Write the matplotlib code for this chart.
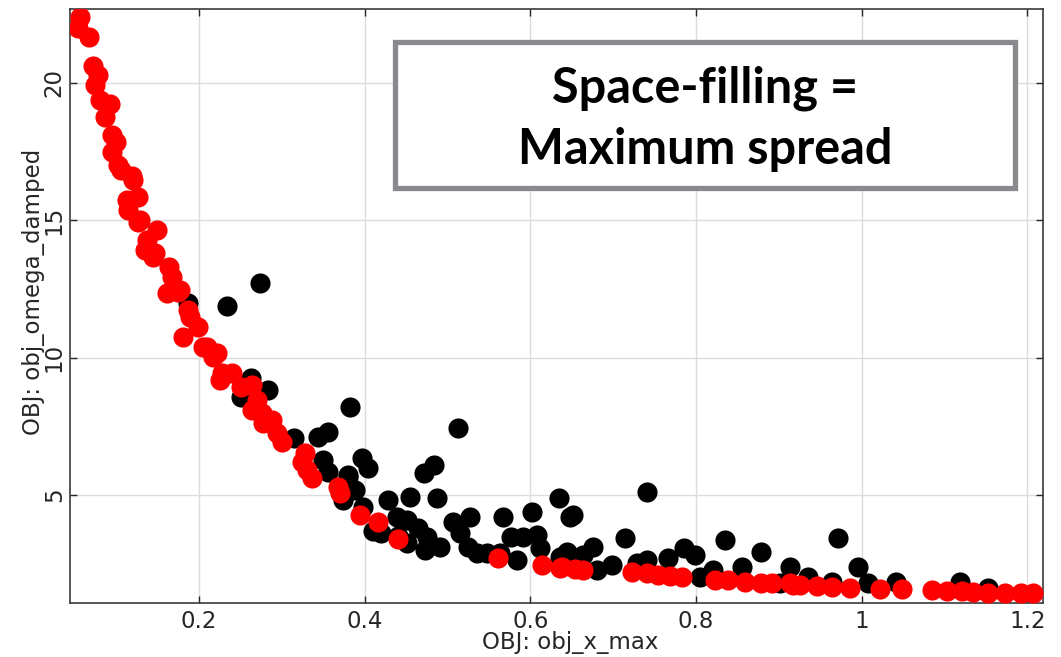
import matplotlib
matplotlib.use("Agg")
import matplotlib.pyplot as plt
from matplotlib.patches import Rectangle

# All evaluated designs (black)
all_x = [0.187, 0.234, 0.274, 0.262, 0.283, 0.250, 0.314, 0.382, 0.344, 0.355,
         0.349, 0.355, 0.397, 0.404, 0.380, 0.513, 0.471, 0.483, 0.380, 0.388,
         0.374, 0.398, 0.428, 0.455, 0.487, 0.419, 0.439, 0.451, 0.464, 0.451,
         0.475, 0.473, 0.491, 0.506, 0.527, 0.515, 0.525, 0.536, 0.548, 0.567,
         0.602, 0.576, 0.591, 0.608, 0.584, 0.612, 0.634, 0.648, 0.636, 0.563,
         0.652, 0.741, 0.714, 0.675, 0.644, 0.663, 0.681, 0.699, 0.741, 0.729,
         0.766, 0.785, 0.799, 0.835, 0.878, 0.856, 0.821, 0.805, 0.914, 0.902,
         0.972, 0.995, 0.935, 0.964, 1.008, 1.041, 1.119, 1.152, 0.410, 0.440]
all_y = [11.99, 11.88, 12.72, 9.26, 8.82, 8.57, 7.07, 8.20, 7.10, 7.29,
         6.27, 5.84, 6.35, 5.98, 5.73, 7.44, 5.80, 6.09, 5.66, 5.18,
         4.82, 4.56, 4.82, 4.93, 4.89, 3.62, 4.20, 4.09, 3.80, 3.25,
         3.47, 3.00, 3.11, 4.02, 4.20, 3.62, 3.11, 2.89, 2.89, 4.20,
         4.38, 3.47, 3.47, 3.54, 2.63, 3.07, 4.89, 4.20, 2.74, 2.90,
         4.27, 5.11, 3.43, 3.11, 2.92, 2.82, 2.27, 2.45, 2.63, 2.52,
         2.71, 3.07, 2.82, 3.36, 2.93, 2.38, 2.27, 2.01, 2.38, 1.80,
         3.43, 2.38, 2.01, 1.83, 1.80, 1.83, 1.83, 1.61, 3.70, 3.50]

# Space-filling Pareto designs (red)
pf_x = [0.056, 0.054, 0.067, 0.072, 0.078, 0.074, 0.080, 0.092, 0.086, 0.095,
        0.099, 0.095, 0.102, 0.119, 0.105, 0.120, 0.113, 0.126, 0.114, 0.126,
        0.149, 0.135, 0.147, 0.163, 0.167, 0.161, 0.175, 0.189, 0.129, 0.137,
        0.144, 0.177, 0.186, 0.181, 0.198, 0.210, 0.222, 0.205, 0.217, 0.228,
        0.225, 0.240, 0.250, 0.264, 0.270, 0.264, 0.276, 0.288, 0.277, 0.294,
        0.300, 0.328, 0.324, 0.330, 0.336, 0.368, 0.370, 0.394, 0.416, 0.440,
        0.561, 0.614, 0.636, 0.638, 0.654, 0.664, 0.723, 0.741, 0.754, 0.769,
        0.783, 0.823, 0.839, 0.859, 0.878, 0.892, 0.917, 0.914, 0.926, 0.946,
        0.964, 0.986, 1.022, 1.049, 1.085, 1.103, 1.121, 1.135, 1.153, 1.173,
        1.192, 1.207]
pf_y = [22.40, 22.00, 21.67, 20.60, 20.29, 19.93, 19.38, 19.23, 18.76, 18.10,
        17.85, 17.50, 17.00, 16.60, 16.83, 16.47, 15.74, 15.85, 15.37, 14.94,
        14.65, 13.92, 13.81, 13.30, 12.94, 12.35, 12.39, 11.48, 15.00, 14.28,
        13.66, 12.46, 11.73, 10.75, 11.12, 10.39, 10.17, 10.39, 10.02, 9.44,
        9.19, 9.44, 8.93, 9.00, 8.46, 8.09, 7.98, 7.73, 7.62, 7.26,
        6.93, 6.53, 6.20, 5.91, 5.62, 5.29, 5.07, 4.27, 4.02, 3.40,
        2.71, 2.45, 2.34, 2.38, 2.31, 2.27, 2.20, 2.16, 2.09, 2.05,
        2.01, 1.91, 1.91, 1.83, 1.80, 1.80, 1.72, 1.80, 1.72, 1.69,
        1.65, 1.61, 1.58, 1.58, 1.54, 1.51, 1.51, 1.47, 1.43, 1.43,
        1.43, 1.43]

x_ticks = [0.2, 0.4, 0.6, 0.8, 1.0, 1.2]
x_tick_labels = ["0.2", "0.4", "0.6", "0.8", "1", "1.2"]
y_ticks = [5, 10, 15, 20]
y_tick_labels = ["5", "10", "15", "20"]

fig = plt.figure(figsize=(10.61, 6.57), dpi=100)
ax = fig.add_axes([70 / 1061, 1 - 603 / 657, 973 / 1061, 594 / 657])

ax.scatter(all_x, all_y, s=210, c="black", linewidths=0, zorder=3)
ax.scatter(pf_x, pf_y, s=210, c="#ff0000", linewidths=0, zorder=4)

ax.set_xlim(0.044, 1.219)
ax.set_ylim(1.07, 22.69)
ax.set_xticks(x_ticks)
ax.set_xticklabels(x_tick_labels)
ax.set_yticks(y_ticks)
ax.set_yticklabels(y_tick_labels, rotation=90, va="center")

ax.grid(True, color="#dcdcdc", linewidth=1.0, zorder=0)
ax.set_axisbelow(True)
for sp in ax.spines.values():
    sp.set_color("#3a3a3a")
    sp.set_linewidth(1.2)
ax.tick_params(direction="in", length=5, width=1, colors="#262626",
               labelsize=16.5, top=True, right=True, pad=5)
ax.tick_params(axis="y", pad=3)

ax.set_xlabel("OBJ: obj_x_max", fontsize=16.5, color="#262626")
ax.xaxis.set_label_coords((570 - 70) / 973, (603 - 643) / 594)
ax.xaxis.label.set_va("center")
ax.set_ylabel("OBJ: obj_omega_damped", fontsize=16.5, color="#262626")
ax.yaxis.set_label_coords((34 - 70) / 973, (603 - 292) / 594)
ax.yaxis.label.set_va("center")

box = Rectangle((395 / 1061, 1 - 188 / 657), 620 / 1061, 146 / 657,
                transform=fig.transFigure, facecolor="white",
                edgecolor="#8a8a8e", linewidth=3.8, zorder=10)
fig.patches.append(box)
fig.text(705 / 1061, 1 - 88 / 657, "Space-filling =", fontsize=35,
         fontweight="bold", family="Lato", ha="center", va="center", zorder=11)
fig.text(705 / 1061, 1 - 150 / 657, "Maximum spread", fontsize=35,
         fontweight="bold", family="Lato", ha="center", va="center", zorder=11)

fig.savefig("out.png", dpi=100)
